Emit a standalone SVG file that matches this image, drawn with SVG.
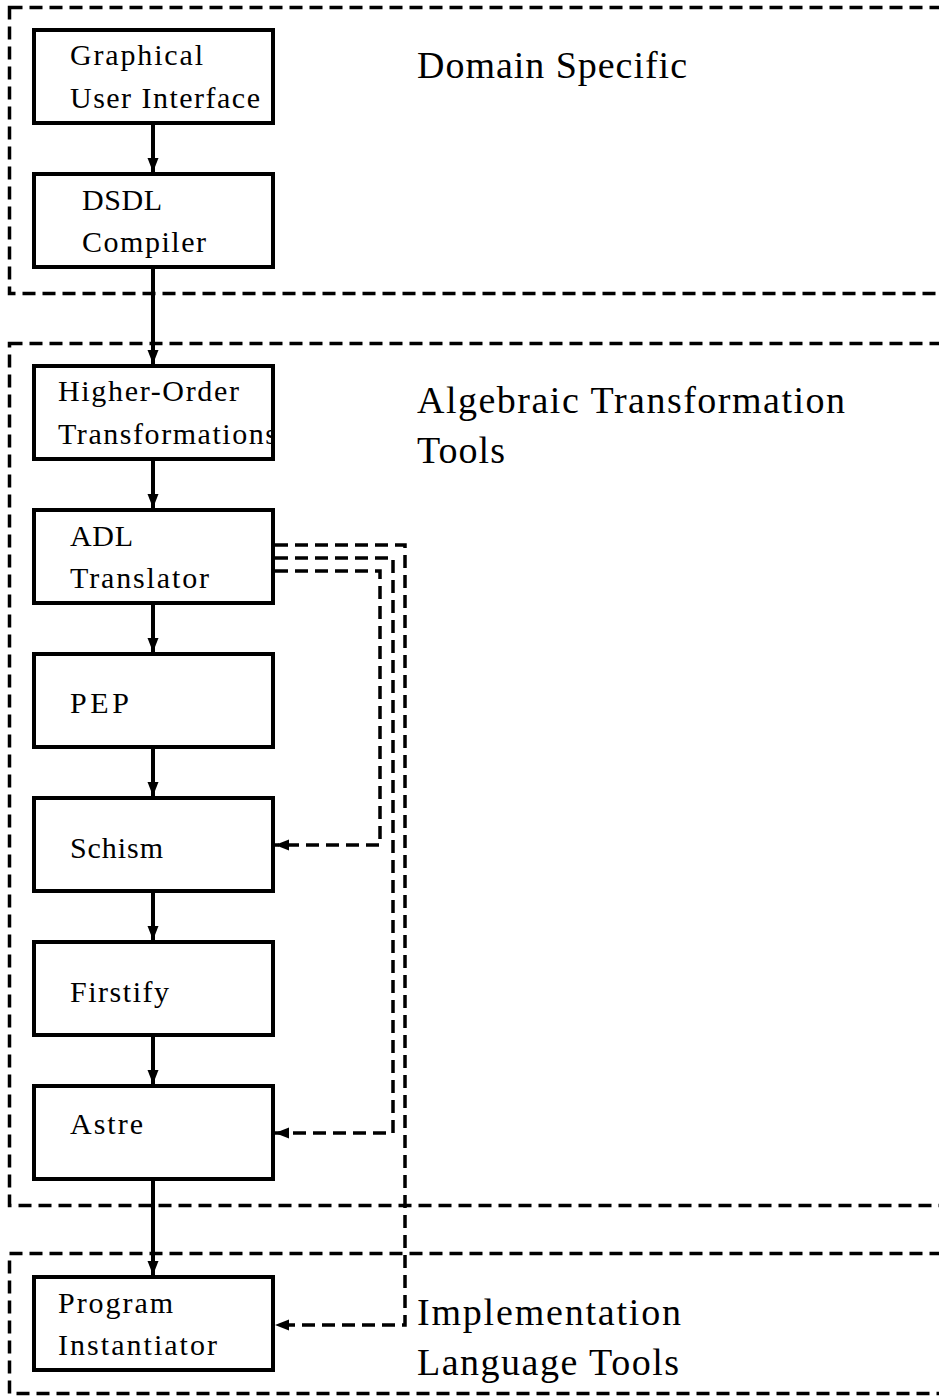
<svg xmlns="http://www.w3.org/2000/svg" width="939" height="1397" viewBox="0 0 939 1397">
  <style>
    .region { fill: none; stroke: #000; stroke-width: 3.5; stroke-dasharray: 13 7; }
    .box { fill: #fff; stroke: #000; stroke-width: 4; }
    .flow { fill: none; stroke: #000; stroke-width: 4; }
    .feed { fill: none; stroke: #000; stroke-width: 3.5; stroke-dasharray: 13 7; }
    .lbl { font-family: "Liberation Serif", "Times New Roman", serif; font-size: 30px; fill: #000; }
    .area { font-family: "Liberation Serif", "Times New Roman", serif; font-size: 38px; fill: #000; }
  </style>
  <defs>
    <marker id="head" markerUnits="userSpaceOnUse" markerWidth="16" markerHeight="12" refX="14" refY="5.5" orient="auto">
      <path d="M0,0 L14,5.5 L0,11 Z" fill="#000" stroke="none"/>
    </marker>
    <clipPath id="hotClip">
      <rect x="0" y="360" width="275" height="110"/>
    </clipPath>
  </defs>

  <!-- layer regions -->
  <g id="regions">
    <rect class="region" x="9.5" y="7.5" width="1000" height="286"/>
    <rect class="region" x="9.5" y="343.5" width="1000" height="862"/>
    <rect class="region" x="9.5" y="1253.5" width="1000" height="140"/>
  </g>

  <!-- connectors -->
  <g id="connectors">
    <line class="flow" x1="153" y1="125" x2="153" y2="172" marker-end="url(#head)"/>
    <line class="flow" x1="153" y1="269" x2="153" y2="364" marker-end="url(#head)"/>
    <line class="flow" x1="153" y1="461" x2="153" y2="508" marker-end="url(#head)"/>
    <line class="flow" x1="153" y1="605" x2="153" y2="652" marker-end="url(#head)"/>
    <line class="flow" x1="153" y1="749" x2="153" y2="796" marker-end="url(#head)"/>
    <line class="flow" x1="153" y1="893" x2="153" y2="940" marker-end="url(#head)"/>
    <line class="flow" x1="153" y1="1037" x2="153" y2="1084" marker-end="url(#head)"/>
    <line class="flow" x1="153" y1="1181" x2="153" y2="1275" marker-end="url(#head)"/>
    <path class="feed" d="M275,545 H405 V1325 H275" marker-end="url(#head)"/>
    <path class="feed" d="M275,558 H393 V1133 H275" marker-end="url(#head)"/>
    <path class="feed" d="M275,571 H380 V845 H275" marker-end="url(#head)"/>
  </g>

  <!-- tools -->
  <g id="gui">
    <rect class="box" x="34" y="30" width="239" height="93"/>
    <text class="lbl" x="70" y="65" textLength="133">Graphical</text>
    <text class="lbl" x="70" y="108" textLength="190">User Interface</text>
  </g>
  <g id="dsdl">
    <rect class="box" x="34" y="174" width="239" height="93"/>
    <text class="lbl" x="82" y="210" textLength="80">DSDL</text>
    <text class="lbl" x="82" y="252" textLength="124">Compiler</text>
  </g>
  <g id="hot">
    <rect class="box" x="34" y="366" width="239" height="93"/>
    <text class="lbl" x="58" y="401" textLength="181">Higher-Order</text>
    <text class="lbl" x="58" y="444" textLength="219" clip-path="url(#hotClip)">Transformations</text>
    <rect x="34" y="366" width="239" height="93" fill="none" stroke="#000" stroke-width="4"/>
  </g>
  <g id="adl">
    <rect class="box" x="34" y="510" width="239" height="93"/>
    <text class="lbl" x="70" y="546" textLength="63">ADL</text>
    <text class="lbl" x="70" y="588" textLength="139">Translator</text>
  </g>
  <g id="pep">
    <rect class="box" x="34" y="654" width="239" height="93"/>
    <text class="lbl" x="70" y="713" textLength="59">PEP</text>
  </g>
  <g id="schism">
    <rect class="box" x="34" y="798" width="239" height="93"/>
    <text class="lbl" x="70" y="858" textLength="93">Schism</text>
  </g>
  <g id="firstify">
    <rect class="box" x="34" y="942" width="239" height="93"/>
    <text class="lbl" x="70" y="1002" textLength="99">Firstify</text>
  </g>
  <g id="astre">
    <rect class="box" x="34" y="1086" width="239" height="93"/>
    <text class="lbl" x="70" y="1134" textLength="73">Astre</text>
  </g>
  <g id="instantiator">
    <rect class="box" x="34" y="1277" width="239" height="93"/>
    <text class="lbl" x="58" y="1313" textLength="115">Program</text>
    <text class="lbl" x="58" y="1355" textLength="159">Instantiator</text>
  </g>

  <!-- region titles -->
  <g id="titles">
    <text class="area" x="417" y="78" textLength="270">Domain Specific</text>
    <text class="area" x="417" y="413" textLength="428">Algebraic Transformation</text>
    <text class="area" x="417" y="463" textLength="88">Tools</text>
    <text class="area" x="417" y="1325" textLength="264">Implementation</text>
    <text class="area" x="417" y="1375" textLength="262">Language Tools</text>
  </g>
</svg>
